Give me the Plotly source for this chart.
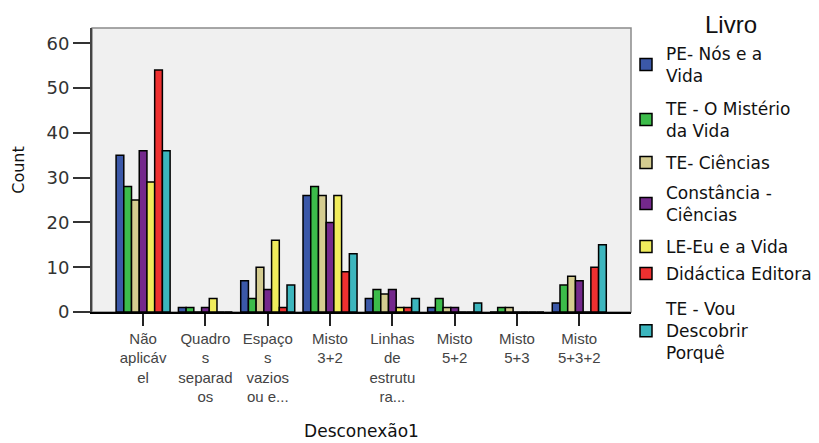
import plotly.graph_objects as go

categories = [
    "Não<br>aplicáv<br>el",
    "Quadro<br>s<br>separad<br>os",
    "Espaço<br>s<br>vazios<br>ou e...",
    "Misto<br>3+2",
    "Linhas<br>de<br>estrutu<br>ra...",
    "Misto<br>5+2",
    "Misto<br>5+3",
    "Misto<br>5+3+2",
]

series_names = [
    "PE- Nós e a<br>Vida",
    "TE - O Mistério<br>da Vida",
    "TE- Ciências",
    "Constância -<br>Ciências",
    "LE-Eu e a Vida",
    "Didáctica Editora",
    "TE - Vou<br>Descobrir<br>Porquê",
]

legend_title = "Livro"

pe_nos_e_a_vida = [35, 1, 7, 26, 3, 1, 0, 2]
te_o_misterio = [28, 1, 3, 28, 5, 3, 1, 6]
te_ciencias = [25, 0, 10, 26, 4, 1, 1, 8]
constancia_ciencias = [36, 1, 5, 20, 5, 1, 0, 7]
le_eu_e_a_vida = [29, 3, 16, 26, 1, 0, 0, 0]
didactica_editora = [54, 0, 1, 9, 1, 0, 0, 10]
te_vou_descobrir = [36, 0, 6, 13, 3, 2, 0, 15]

series_values = [pe_nos_e_a_vida, te_o_misterio, te_ciencias, constancia_ciencias,
                 le_eu_e_a_vida, didactica_editora, te_vou_descobrir]

colors = ["#3b58a8", "#3cbc4a", "#d4cc90", "#74288c", "#f0ec5c", "#ee3030", "#3cb6be"]

y_ticks = [0, 10, 20, 30, 40, 50, 60]

# The page body adds an 8px margin; plot area in figure pixels:
PAGE_OFF = 8
PLOT_L, PLOT_R, PLOT_T, PLOT_B = 92 - PAGE_OFF, 631 - PAGE_OFF, 28 - PAGE_OFF, 312 - PAGE_OFF
W, H = 819, 443

# legend item centres (page pixels)
legend_centers_page = [65, 120, 163, 204, 247, 274, 331]

def py(page_px):
    return (PLOT_B - (page_px - PAGE_OFF)) / (PLOT_B - PLOT_T)

def px(page_px):
    return ((page_px - PAGE_OFF) - PLOT_L) / (PLOT_R - PLOT_L)

legend_ids = ["legend"] + [f"legend{i}" for i in range(2, 8)]

fig = go.Figure()
for name, vals, col, lid in zip(series_names, series_values, colors, legend_ids):
    fig.add_trace(go.Bar(
        x=list(range(len(categories))), y=vals, name=name, legend=lid,
        marker=dict(color=col, line=dict(color="#000000", width=1.5)),
    ))

legend_font = dict(size=17, family="DejaVu Sans", color="#111111")
layout_legends = {}
for i, lid in enumerate(legend_ids):
    layout_legends[lid] = dict(
        x=px(626), xanchor="left", y=py(legend_centers_page[i]), yanchor="middle",
        bgcolor="rgba(0,0,0,0)", font=legend_font, tracegroupgap=0,
    )

fig.update_layout(
    width=W, height=H,
    margin=dict(l=PLOT_L, r=W - PLOT_R, t=PLOT_T, b=H - PLOT_B, autoexpand=False),
    paper_bgcolor="#ffffff",
    plot_bgcolor="#f0f0f0",
    barmode="group",
    bargap=0.133,
    bargroupgap=0,
    showlegend=True,
    font=dict(family="DejaVu Sans, Liberation Sans, Arial", color="#222222"),
    shapes=[dict(type="rect", xref="paper", yref="paper", x0=0, x1=1, y0=0, y1=1,
                 line=dict(color="#8a8a8a", width=1.5), fillcolor="rgba(0,0,0,0)", layer="below")],
    annotations=[dict(text=legend_title, xref="paper", yref="paper", x=px(731), y=py(25),
                      xanchor="center", yanchor="middle", showarrow=False,
                      font=dict(size=24, family="Liberation Sans, Arial", color="#111111"))],
    **layout_legends,
)

fig.update_xaxes(
    tickmode="array", tickvals=list(range(len(categories))), ticktext=categories,
    range=[-0.82, 7.83], automargin=False,
    showline=True, linecolor="#000000", linewidth=1.5,
    ticks="outside", ticklen=12, tickwidth=1.5, tickcolor="#222222",
    tickfont=dict(size=15, family="Liberation Sans, Arial", color="#444444"),
    showgrid=False, zeroline=False,
    title=dict(text="Desconexão1", font=dict(size=17, family="DejaVu Sans", color="#111111"),
               standoff=21),
)
fig.update_yaxes(
    range=[0, 63.4], automargin=False,
    tickmode="array", tickvals=y_ticks,
    showline=True, linecolor="#444444", linewidth=2,
    ticks="outside", ticklen=17, tickwidth=1.5, tickcolor="#333333",
    tickfont=dict(size=18, family="DejaVu Sans", color="#333333"),
    showgrid=False, zeroline=False,
    title=dict(text="Count", font=dict(size=16, family="DejaVu Sans", color="#111111"),
               standoff=18),
)

fig.write_html("out.html")
